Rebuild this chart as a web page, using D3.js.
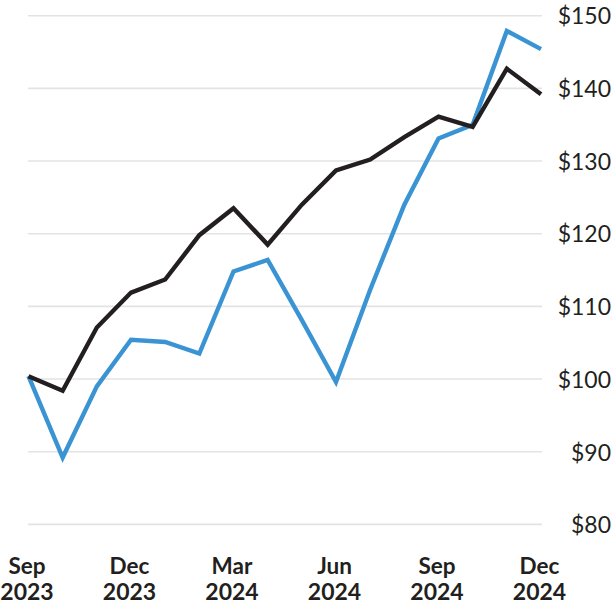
<!DOCTYPE html>
<html>
<head>
<meta charset="utf-8">
<script src="https://cdn.jsdelivr.net/npm/d3@7"></script>
<style>
  html, body { margin: 0; padding: 0; background: #ffffff; }
  svg { display: block; }
</style>
</head>
<body>
<svg id="chart" width="612" height="605"></svg>
<script>
// ---- data ----
const months = ["Sep 2023","Oct 2023","Nov 2023","Dec 2023","Jan 2024","Feb 2024","Mar 2024","Apr 2024",
                "May 2024","Jun 2024","Jul 2024","Aug 2024","Sep 2024","Oct 2024","Nov 2024","Dec 2024"];
const blackSeries = [100.4, 98.4, 107.1, 111.9, 113.7, 119.8, 123.5, 118.5,
                     124.0, 128.7, 130.2, 133.3, 136.1, 134.7, 142.7, 139.2];
const blueSeries  = [100.4, 89.2, 99.0, 105.4, 105.1, 103.5, 114.8, 116.4,
                     108.1, 99.6, 112.3, 124.0, 133.1, 135.0, 147.9, 145.4];
const yTicks = [80, 90, 100, 110, 120, 130, 140, 150];
const xTickIdx = [0, 3, 6, 9, 12, 15];
const xTickTop = ["Sep", "Dec", "Mar", "Jun", "Sep", "Dec"];
const xTickBottom = ["2023", "2023", "2024", "2024", "2024", "2024"];

// ---- layout ----
const svg = d3.select("#chart");
const x = d3.scaleLinear().domain([0, months.length - 1]).range([28.5, 541]);
const y = d3.scaleLinear().domain([80, 150]).range([524.4, 15.7]);

// gridlines + y labels
const yAxis = d3.axisRight(y).tickValues(yTicks).tickSize(0).tickPadding(0)
  .tickFormat(d => "$" + d);
const gy = svg.append("g").attr("transform", "translate(611,0)").call(yAxis);
gy.select(".domain").remove();
gy.selectAll("text")
  .attr("text-anchor", "end")
  .attr("x", 0)
  .attr("dy", "0.36em")
  .style("font-family", "Lato, 'Open Sans', sans-serif")
  .style("font-size", "23px")
  .style("fill", "#231f20");

svg.append("g").selectAll("line").data(yTicks).join("line")
  .attr("x1", 28).attr("x2", 542)
  .attr("y1", d => y(d)).attr("y2", d => y(d))
  .attr("stroke", "#e3e3e3").attr("stroke-width", 1.6);

// x labels
const gx = svg.append("g");
xTickIdx.forEach((idx, i) => {
  const t = gx.append("text")
    .attr("x", x(idx) - 1.5)
    .attr("text-anchor", "middle")
    .style("font-family", "Lato, 'Open Sans', sans-serif")
    .style("font-weight", "bold")
    .style("fill", "#231f20");
  t.append("tspan").attr("x", x(idx) - 1.5).attr("y", 574).style("font-size", "22.5px").text(xTickTop[i]);
  t.append("tspan").attr("x", x(idx) - 1.5).attr("y", 600).style("font-size", "23px").text(xTickBottom[i]);
});

// lines
const line = d3.line().x((d, i) => x(i)).y(d => y(d));
svg.append("path").datum(blueSeries)
  .attr("d", line).attr("fill", "none")
  .attr("stroke", "#3a94d3").attr("stroke-width", 4.4)
  .attr("stroke-linejoin", "miter").attr("stroke-linecap", "butt");
svg.append("path").datum(blackSeries)
  .attr("d", line).attr("fill", "none")
  .attr("stroke", "#231f20").attr("stroke-width", 4.4)
  .attr("stroke-linejoin", "miter").attr("stroke-linecap", "butt");
</script>
</body>
</html>
